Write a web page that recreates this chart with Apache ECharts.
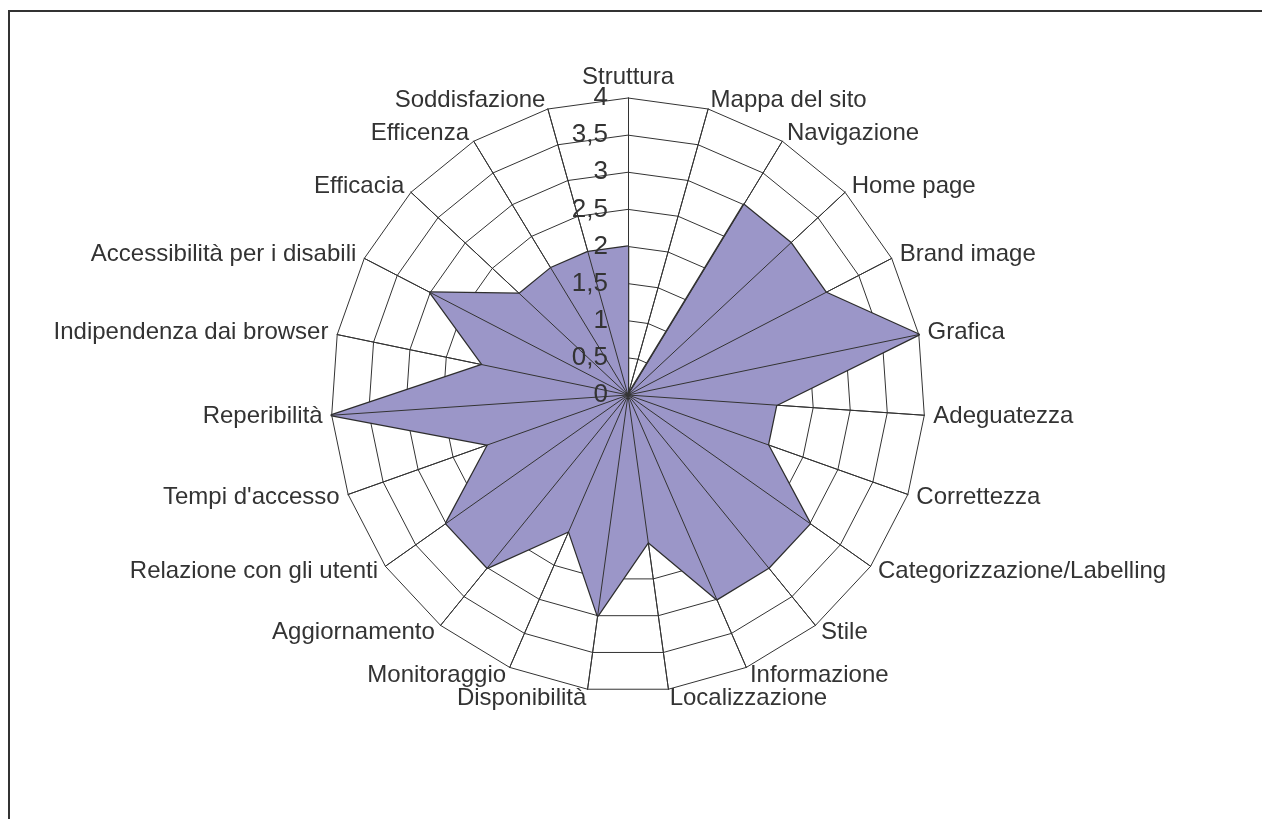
<!DOCTYPE html>
<html>
<head>
<meta charset="utf-8">
<script src="https://cdn.jsdelivr.net/npm/echarts@6/dist/echarts.min.js"></script>
<style>
  html, body { margin: 0; padding: 0; background: #fff; }
  #frame {
    position: absolute; left: 8px; top: 10px; width: 1262px; height: 819px;
    border-left: 2px solid #333; border-top: 2px solid #333;
  }
  #chart { position: absolute; left: 0; top: 0; width: 1262px; height: 819px; }
</style>
</head>
<body>
<div id="frame"></div>
<div id="chart"></div>
<script>
  // voci del radar, in senso orario a partire dall'alto
  var categories = [
    'Struttura', 'Mappa del sito', 'Navigazione', 'Home page', 'Brand image',
    'Grafica', 'Adeguatezza', 'Correttezza', 'Categorizzazione/Labelling', 'Stile',
    'Informazione', 'Localizzazione', 'Disponibilità', 'Monitoraggio', 'Aggiornamento',
    'Relazione con gli utenti', "Tempi d'accesso", 'Reperibilità', 'Indipendenza dai browser',
    'Accessibilità per i disabili', 'Efficacia', 'Efficenza', 'Soddisfazione'
  ];
  var values = [2, 0, 3, 3, 3, 4, 2, 2, 3, 3, 3, 2, 3, 2, 3, 3, 2, 4, 2, 3, 2, 2, 2];
  var axisMax = 4;
  var axisStep = 0.5;

  // echarts gira in senso antiorario: inverto l'ordine dopo il primo
  var order = [0];
  for (var i = categories.length - 1; i > 0; i--) order.push(i);
  var indicator = order.map(function (i) { return { name: categories[i], max: axisMax, min: 0 }; });
  var data = order.map(function (i) { return values[i]; });

  var center = [628, 395];
  var radius = 297;
  var font = '"Liberation Sans", Arial, sans-serif';

  var chart = echarts.init(document.getElementById('chart'));
  chart.setOption({
    animation: false,
    radar: [{
      center: center,
      radius: radius,
      startAngle: 90,
      shape: 'polygon',
      splitNumber: axisMax / axisStep,
      indicator: indicator,
      nameGap: 9,
      axisName: { color: '#333', fontSize: 24, fontFamily: font },
      axisLine: { lineStyle: { color: '#333', width: 1 } },
      splitLine: { lineStyle: { color: '#333', width: 1 } },
      splitArea: { show: false }
    }, {
      // raggi disegnati sopra l'area
      z: 10,
      center: center,
      radius: radius,
      startAngle: 90,
      shape: 'polygon',
      splitNumber: axisMax / axisStep,
      indicator: indicator,
      axisName: { show: false },
      axisLine: { lineStyle: { color: '#333', width: 1 } },
      splitLine: { show: false },
      splitArea: { show: false }
    }],
    polar: { center: center, radius: radius },
    angleAxis: { type: 'value', show: false, startAngle: 90 },
    radiusAxis: {
      min: 0,
      max: axisMax,
      interval: axisStep,
      z: 11,
      axisLine: { show: false },
      axisTick: { show: false },
      splitLine: { show: false },
      axisLabel: {
        margin: 20,
        color: '#333',
        fontSize: 26,
        fontFamily: font,
        formatter: function (v) { return String(v).replace('.', ','); }
      }
    },
    series: [{
      type: 'radar',
      radarIndex: 0,
      symbol: 'none',
      lineStyle: { color: '#2e2e2e', width: 2.5 },
      areaStyle: { color: '#9b96c8', opacity: 1 },
      data: [{ value: data }]
    }]
  });
</script>
</body>
</html>
